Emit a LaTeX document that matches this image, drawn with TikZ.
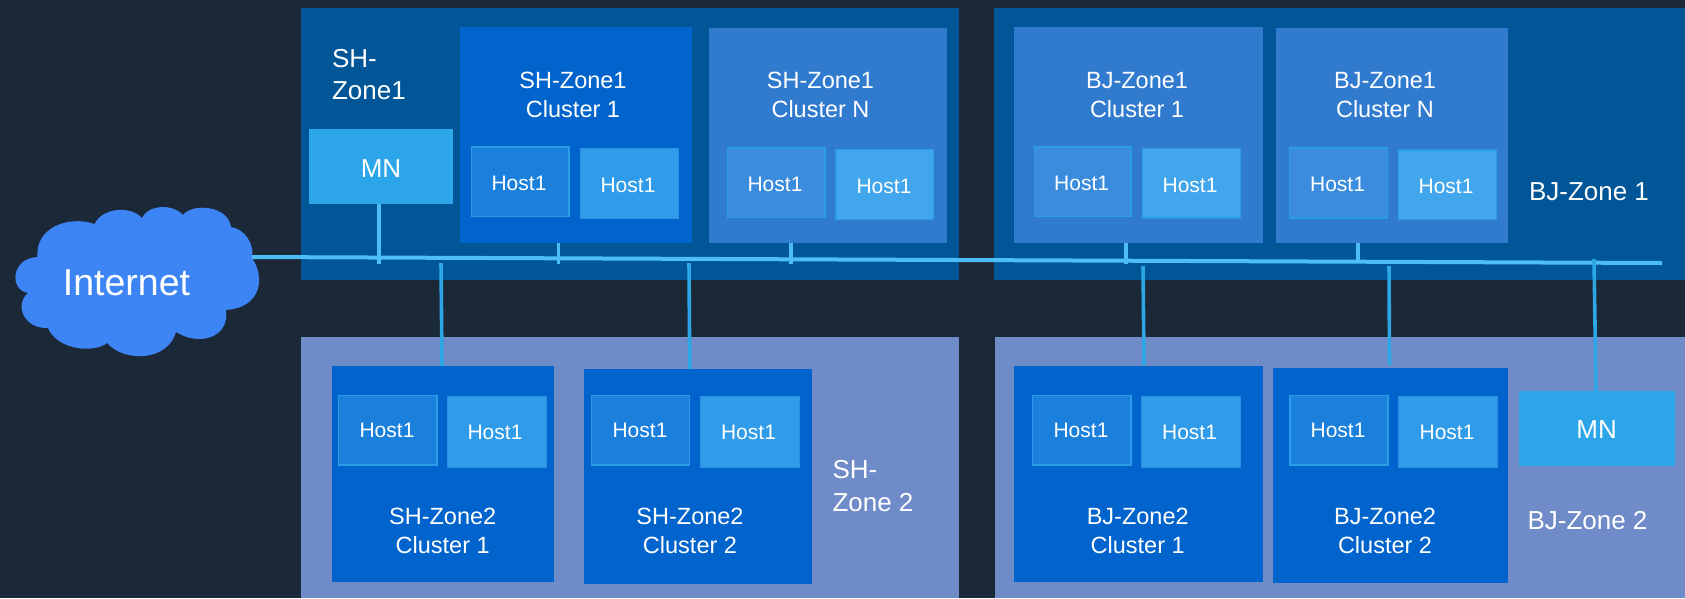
\documentclass[tikz,border=0pt]{standalone}
\usepackage{fontspec}
\setmainfont{Liberation Sans}
\definecolor{bgc}{HTML}{1B2838}
\definecolor{zoneA}{HTML}{005696}
\definecolor{zoneB}{HTML}{6F8BC8}
\definecolor{clB}{HTML}{0064CC}
\definecolor{clM}{HTML}{317BCF}
\definecolor{mnc}{HTML}{2CA6E8}
\definecolor{hBa}{HTML}{1B80DC}
\definecolor{hBb}{HTML}{2F9BE9}
\definecolor{hMa}{HTML}{3B8CDD}
\definecolor{hMb}{HTML}{42A6EC}
\definecolor{hedge}{HTML}{2B9CE6}
\definecolor{busc}{HTML}{4DBDF5}
\definecolor{linkc}{HTML}{2CA6E5}
\definecolor{cloudc}{HTML}{3D85F5}
\newcommand{\rbox}[6]{%
  \pgfmathsetmacro{\rcx}{(#3+#5)/2}\pgfmathsetmacro{\rcy}{(#4+#6)/2}%
  \pgfmathsetmacro{\rw}{#5-#3}\pgfmathsetmacro{\rh}{#6-#4}%
  \node[#2,minimum width=\rw pt,minimum height=\rh pt] (#1) at (\rcx,\rcy) {};}
\tikzset{
  plain/.style={rectangle,inner sep=0pt,outer sep=0pt},
  zonea/.style={plain,fill=zoneA},
  zoneb/.style={plain,fill=zoneB},
  clbright/.style={plain,fill=clB},
  clmid/.style={plain,fill=clM},
  mnbox/.style={plain,fill=mnc},
  hostBa/.style={plain,fill=hBa,draw=hedge,line width=1.6pt},
  hostBb/.style={plain,fill=hBb,draw=hBb!85!clB,line width=1pt},
  hostMa/.style={plain,fill=hMa,draw=hedge,line width=1.6pt},
  hostMb/.style={plain,fill=hMb,draw=hedge,line width=1.6pt},
  lbl/.style={anchor=base,text=white,inner sep=0pt,outer sep=0pt,font=\fontsize{23.5}{28}\selectfont},
  hostlbl/.style={lbl,font=\fontsize{21}{25}\selectfont},
  biglbl/.style={anchor=base west,text=white,inner sep=0pt,outer sep=0pt,font=\fontsize{26}{30}\selectfont},
  mnlbl/.style={lbl,font=\fontsize{26}{30}\selectfont},
  inetlbl/.style={lbl,font=\fontsize{37.5}{44}\selectfont},
  buswire/.style={draw=busc,line width=4pt},
  stub/.style={draw=busc,line width=3.8pt},
  linkwire/.style={draw=linkc,line width=3.6pt},
}
\begin{document}
\begin{tikzpicture}[x=1pt,y=-1pt]
\useasboundingbox (0,0) rectangle (1685,598);
\fill[bgc] (0,0) rectangle (1685,598);
% zones
\rbox{zsh1}{zonea}{301}{8}{959}{280}
\rbox{zbj1}{zonea}{994}{8}{1685}{280}
\rbox{zsh2}{zoneb}{301}{337}{959}{598}
\rbox{zbj2}{zoneb}{995}{337}{1685}{598}
% top clusters
\rbox{sc1}{clbright}{460}{27}{692}{243}
\rbox{scn}{clmid}{709}{28}{947}{243}
\rbox{bc1}{clmid}{1014}{27}{1263}{243}
\rbox{bcn}{clmid}{1276}{28}{1508}{243}
\rbox{smn}{mnbox}{309}{129}{453}{204}
% bottom clusters
\rbox{s2c1}{clbright}{332}{365.5}{554}{581.5}
\rbox{s2c2}{clbright}{584}{368.5}{812}{583.5}
\rbox{b2c1}{clbright}{1014}{365.5}{1263}{581.5}
\rbox{b2c2}{clbright}{1273}{367.5}{1508}{582.5}
\rbox{bmn}{mnbox}{1519}{391}{1675}{466}
% hosts top
\rbox{h1}{hostBa}{471.5}{147}{569}{216.5}
\rbox{h2}{hostBb}{580}{148.5}{678}{218}
\rbox{h3}{hostMa}{727.5}{148}{825}{217.5}
\rbox{h4}{hostMb}{836}{149.5}{933.5}{219.5}
\rbox{h5}{hostMa}{1034.5}{147}{1131}{216.5}
\rbox{h6}{hostMb}{1142.5}{148.5}{1240.5}{218}
\rbox{h7}{hostMa}{1289.5}{148}{1387.5}{218}
\rbox{h8}{hostMb}{1398.5}{150}{1496.5}{219.5}
% hosts bottom
\rbox{h9}{hostBa}{338.5}{395.5}{437}{465}
\rbox{h10}{hostBb}{447.5}{396.5}{546}{467}
\rbox{h11}{hostBa}{591.5}{395.5}{689.5}{465}
\rbox{h12}{hostBb}{700}{396.5}{799}{467}
\rbox{h13}{hostBa}{1032.5}{395.5}{1131}{465}
\rbox{h14}{hostBb}{1141.5}{396.5}{1240}{467}
\rbox{h15}{hostBa}{1290}{395.5}{1388}{465}
\rbox{h16}{hostBb}{1398.5}{396.5}{1497}{467}
% cloud
\fill[cloudc] (37.5,257)
  .. controls (35,228) and (68,215) .. (94.6,224)
  .. controls (102,208) and (130,205) .. (142,218)
  .. controls (148,205) and (172,203) .. (183,215)
  .. controls (192,203) and (228,205) .. (231,227)
  .. controls (245,229) and (255,245) .. (252,258)
  .. controls (264,275) and (264,307) .. (226,310)
  .. controls (230,337) and (200,347) .. (176,332)
  .. controls (168,361) and (125,363) .. (107,343)
  .. controls (95,353) and (58,351) .. (48,328)
  .. controls (24,329) and (14,305) .. (28,293)
  .. controls (9,290) and (11,258) .. (37.5,257) -- cycle;
% wire ends
\coordinate (busL) at (252,257);
\coordinate (busR) at (1662,263);
\coordinate (t1) at (378.6,263.5);
\coordinate (t2) at (558.5,263.5);
\coordinate (t3) at (791,263.5);
\coordinate (t4) at (1125.7,263.5);
\coordinate (t5) at (1357.7,262);
\coordinate (u1) at (441,263);
\coordinate (u2) at (689,263);
\coordinate (u3) at (1143,266);
\coordinate (u4) at (1389,266);
\coordinate (u5) at (1594,259);
\coordinate (v1) at (442,366);
\coordinate (v2) at (689.7,369);
\coordinate (v3) at (1144,365);
\coordinate (v4) at (1389.5,365);
\coordinate (v5) at (1596,391);
% wires
\draw[stub] (t1 |- smn.south) -- (t1);
\draw[stub] (t2 |- sc1.south) -- (t2);
\draw[stub] (t3 |- scn.south) -- (t3);
\draw[stub] (t4 |- bc1.south) -- (t4);
\draw[stub] (t5 |- bcn.south) -- (t5);
\draw[buswire] (busL) -- (busR);
\draw[linkwire] (u1) -- (v1);
\draw[linkwire] (u2) -- (v2);
\draw[linkwire] (u3) -- (v3);
\draw[linkwire] (u4) -- (v4);
\draw[linkwire] (u5) -- (v5);
% texts
\node[inetlbl] (tinet) at (126.5,295) {Internet};
\node[biglbl] (tz1a) at (332,67) {SH-};
\node[biglbl] (tz1b) at (332,99) {Zone1};
\node[biglbl] (tz2a) at (832.5,478) {SH-};
\node[biglbl] (tz2b) at (832.5,511) {Zone 2};
\node[biglbl] (tz3) at (1529,200) {BJ-Zone 1};
\node[biglbl] (tz4) at (1527.5,529) {BJ-Zone 2};
\node[mnlbl] (tmn1) at (381,177) {MN};
\node[mnlbl] (tmn2) at (1596.6,438.7) {MN};
\node[lbl] (c1a) at (573,88) {SH-Zone1};
\node[lbl] (c1b) at (573,117) {Cluster 1};
\node[lbl] (c2a) at (820.5,88) {SH-Zone1};
\node[lbl] (c2b) at (820.5,117) {Cluster N};
\node[lbl] (c3a) at (1137,88) {BJ-Zone1};
\node[lbl] (c3b) at (1137,117) {Cluster 1};
\node[lbl] (c4a) at (1385,88) {BJ-Zone1};
\node[lbl] (c4b) at (1385,117) {Cluster N};
\node[lbl] (c5a) at (442.7,524.5) {SH-Zone2};
\node[lbl] (c5b) at (442.7,553.5) {Cluster 1};
\node[lbl] (c6a) at (690,524.5) {SH-Zone2};
\node[lbl] (c6b) at (690,553.5) {Cluster 2};
\node[lbl] (c7a) at (1137.7,524.5) {BJ-Zone2};
\node[lbl] (c7b) at (1137.7,553.5) {Cluster 1};
\node[lbl] (c8a) at (1385,524.5) {BJ-Zone2};
\node[lbl] (c8b) at (1385,553.5) {Cluster 2};
\node[hostlbl] (th1) at (519,190) {Host1};
\node[hostlbl] (th2) at (628,192) {Host1};
\node[hostlbl] (th3) at (775,191) {Host1};
\node[hostlbl] (th4) at (884,193) {Host1};
\node[hostlbl] (th5) at (1081.6,190) {Host1};
\node[hostlbl] (th6) at (1190,192) {Host1};
\node[hostlbl] (th7) at (1337.5,191.5) {Host1};
\node[hostlbl] (th8) at (1446,193.5) {Host1};
\node[hostlbl] (th9) at (387,437.5) {Host1};
\node[hostlbl] (th10) at (495,439.5) {Host1};
\node[hostlbl] (th11) at (640,437.5) {Host1};
\node[hostlbl] (th12) at (748.5,439.5) {Host1};
\node[hostlbl] (th13) at (1081,437.5) {Host1};
\node[hostlbl] (th14) at (1189.5,439.5) {Host1};
\node[hostlbl] (th15) at (1338,437.5) {Host1};
\node[hostlbl] (th16) at (1447,439.5) {Host1};
\end{tikzpicture}
\end{document}
